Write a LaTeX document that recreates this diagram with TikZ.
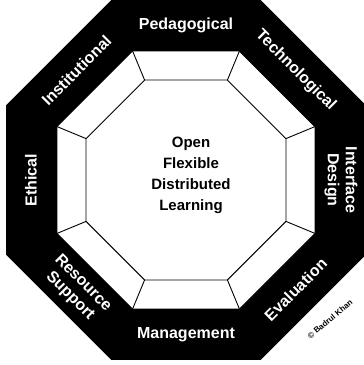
\documentclass[tikz,border=0pt]{standalone}
\usepackage{fontspec}
\setmainfont{Liberation Sans}
\usetikzlibrary{calc}
\newcommand{\outerrad}{194.8}
\newcommand{\midrad}{139.6}
\newcommand{\innerrad}{108.2}
\newcommand{\bandlabel}[4]{
	\node[bandtext, rotate=#3] (#1) at (#2:155) {#4};
}
\tikzset{
	bandtext/.style={text=white, font=\bfseries\fontsize{16}{18}\selectfont, align=center, inner sep=0pt},
	coretext/.style={font=\bfseries\fontsize{15}{21}\selectfont, align=center, inner sep=0pt},
	bevel/.style={draw=black, line width=0.9pt, line join=round}
}

\begin{document}
\begin{tikzpicture}[x=1pt,y=1pt]
	\useasboundingbox (-186,-185) rectangle (178,180);
	\foreach \k in {0,...,7}{
		\coordinate (O\k) at (22.5+45*\k:\outerrad);
		\coordinate (M\k) at (22.5+45*\k:\midrad);
		\coordinate (I\k) at (22.5+45*\k:\innerrad);
	}

	\fill[black] (O0) -- (O1) -- (O2) -- (O3) -- (O4) -- (O5) -- (O6) -- (O7) -- cycle;
	\filldraw[white, bevel] (M0) -- (M1) -- (M2) -- (M3) -- (M4) -- (M5) -- (M6) -- (M7) -- cycle;
	\draw[bevel] (I0) -- (I1) -- (I2) -- (I3) -- (I4) -- (I5) -- (I6) -- (I7) -- cycle;
	\foreach \k in {0,...,7}
		\draw[bevel] (I\k) -- (M\k);

	\bandlabel{pedagogical}{90}{0}{Pedagogical}
	\bandlabel{technological}{45}{-45}{Technological}
	\bandlabel{interface}{0}{-90}{Interface\\Design}
	\bandlabel{evaluation}{-45}{45}{Evaluation}
	\bandlabel{management}{-90}{0}{Management}
	\bandlabel{resource}{-135}{-45}{Resource\\Support}
	\bandlabel{ethical}{180}{90}{Ethical}
	\bandlabel{institutional}{135}{45}{Institutional}

	\node[coretext] (core) at (5,5) {Open\\Flexible\\Distributed\\Learning};
	\node[font=\bfseries\fontsize{8}{9}\selectfont, rotate=40, inner sep=0pt] (author) at (144,-139) {© Badrul Khan};
\end{tikzpicture}
\end{document}
